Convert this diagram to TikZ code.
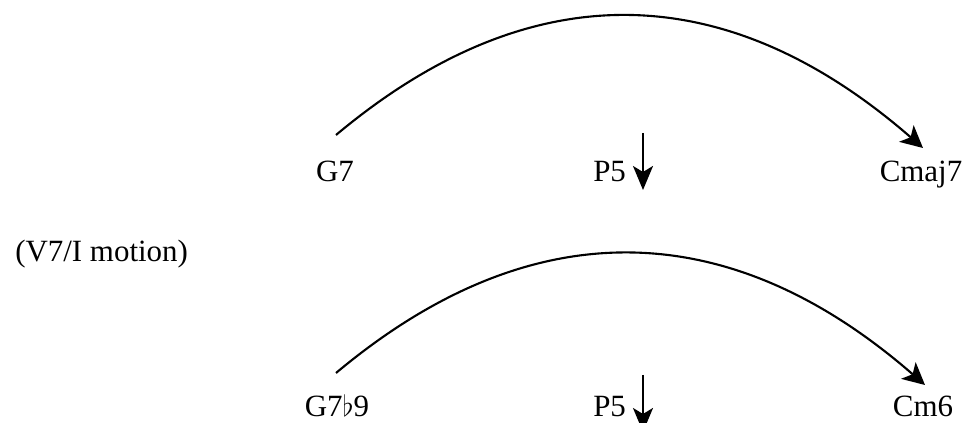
\documentclass[tikz,border=0pt]{standalone}
\usepackage{fontspec}
\setmainfont{Liberation Serif}
\usetikzlibrary{arrows.meta}

\begin{document}
\begin{tikzpicture}[
  chord/.style={anchor=base, inner sep=0pt, font=\fontsize{22}{26}\selectfont},
  motion/.style={-{Stealth[length=0.55cm,width=0.55cm,inset=0.14cm]}, line width=1.5pt},
  drop/.style={-{Stealth[length=0.6cm,width=0.5cm,inset=0.15cm]}, line width=1.5pt}
]
\useasboundingbox (0,0) rectangle (24.15,10.575);
\node[chord] (g7) at (8.375,6.025) {G7};
\node[chord] (p5a) at (15.24,6.025) {P5};
\node[chord] (cmaj7) at (23.025,6.025) {Cmaj7};
\node[chord] (label) at (2.54,4.025) {(V7/I motion)};
\node[chord] (g7b9) at (8.425,0.15) {G7$\flat$9};
\node[chord] (p5b) at (15.24,0.15) {P5};
\node[chord] (cm6) at (23.075,0.15) {Cm6};
\draw[motion] ([shift={(0.025,1.175)}]g7.base) .. controls +(4.925,4.125) and +(-4.85,4.225) .. ([shift={(0.05,0.85)}]cmaj7.base);
\draw[drop] ([shift={(0.835,1.225)}]p5a.base) -- ([shift={(0.835,-0.2)}]p5a.base);
\draw[motion] ([shift={(-0.025,1.1)}]g7b9.base) .. controls +(4.925,4.125) and +(-4.85,4.225) .. ([shift={(0.05,0.8)}]cm6.base);
\draw[drop] ([shift={(0.835,1.05)}]p5b.base) -- ([shift={(0.835,-0.375)}]p5b.base);
\end{tikzpicture}
\end{document}
